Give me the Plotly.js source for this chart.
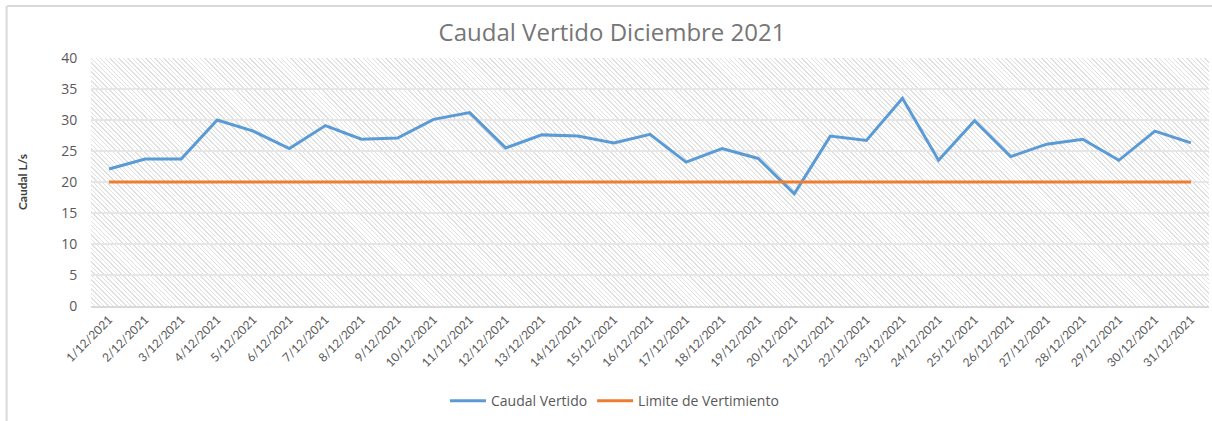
<!DOCTYPE html>
<html>
<head>
<meta charset="utf-8">
<script src="https://cdn.plot.ly/plotly-3.0.1.min.js"></script>
<style>
  html, body { margin: 0; padding: 0; background: #ffffff; }
  #wrap { position: relative; width: 1212px; height: 421px; overflow: hidden; }
  #hatch {
    position: absolute; left: 91px; top: 58px; width: 1118px; height: 248px;
    background: repeating-linear-gradient(45deg, #ffffff 0px, #ffffff 2.2px, #e0e0e0 2.2px, #e0e0e0 3.2px);
    z-index: 0;
  }
  #chart { position: absolute; left: 0; top: 0; width: 1212px; height: 421px; z-index: 1; }
</style>
</head>
<body>
<div id="wrap">
  <div id="hatch"></div>
  <div id="chart"></div>
</div>
<script>
const fechas = ["1/12/2021","2/12/2021","3/12/2021","4/12/2021","5/12/2021","6/12/2021","7/12/2021","8/12/2021","9/12/2021","10/12/2021","11/12/2021","12/12/2021","13/12/2021","14/12/2021","15/12/2021","16/12/2021","17/12/2021","18/12/2021","19/12/2021","20/12/2021","21/12/2021","22/12/2021","23/12/2021","24/12/2021","25/12/2021","26/12/2021","27/12/2021","28/12/2021","29/12/2021","30/12/2021","31/12/2021"];
const caudalVertido = [22.1,23.7,23.7,30.0,28.2,25.4,29.1,26.9,27.1,30.1,31.2,25.5,27.6,27.4,26.3,27.7,23.2,25.4,23.8,18.1,27.4,26.7,33.5,23.5,29.9,24.1,26.1,26.9,23.5,28.2,26.3];
const limiteVertimiento = [20,20,20,20,20,20,20,20,20,20,20,20,20,20,20,20,20,20,20,20,20,20,20,20,20,20,20,20,20,20,20];
const yTicks = [0,5,10,15,20,25,30,35,40];

const FONT = "Lato, 'Open Sans', sans-serif";
const GRAY = "#595959";

const traces = [
  { type: "scatter", mode: "lines", name: "Caudal Vertido", x: fechas, y: caudalVertido,
    line: { color: "#5B9BD5", width: 3 } },
  { type: "scatter", mode: "lines", name: "Limite de Vertimiento", x: fechas, y: limiteVertimiento,
    line: { color: "#ED7D31", width: 3 } }
];

const layout = {
  width: 1212, height: 421,
  margin: { l: 91, r: 3, t: 58, b: 115 },
  paper_bgcolor: "rgba(0,0,0,0)",
  plot_bgcolor: "rgba(0,0,0,0)",
  font: { family: FONT, color: GRAY },
  title: { text: "Caudal Vertido Diciembre 2021", font: { size: 24, color: "#767676", family: "'Open Sans', sans-serif" },
           x: 0.505, xref: "container", xanchor: "center", y: 0.922, yref: "container", yanchor: "middle" },
  showlegend: true,
  legend: { orientation: "h", xref: "container", yref: "container", x: 0.507, xanchor: "center",
            y: 0.047, yanchor: "middle", font: { size: 14, color: GRAY, family: "'Open Sans', sans-serif" },
            itemwidth: 36, tracegroupgap: 0 },
  xaxis: {
    type: "category", range: [-0.5, 30.5], tickangle: -45,
    tickfont: { size: 12, color: GRAY, family: FONT },
    showgrid: false, showline: true, linecolor: "#d9d9d9", linewidth: 2,
    ticks: "", zeroline: false, fixedrange: true
  },
  yaxis: {
    range: [0, 40], tickvals: yTicks, ticktext: yTicks.map(String),
    tickfont: { size: 14, color: GRAY, family: "'Open Sans', sans-serif" },
    showgrid: true, gridcolor: "#e6e6e6", gridwidth: 2,
    zeroline: false, showline: false,
    ticks: "outside", ticklen: 10, tickcolor: "rgba(0,0,0,0)",
    title: { text: "Caudal L/s", font: { size: 12, color: "#404040", family: FONT, weight: "bold" }, standoff: 30 },
    fixedrange: true
  },
  shapes: [
    { type: "line", xref: "paper", yref: "paper", x0: -0.075, x1: 1.01, y0: 1.21, y1: 1.21,
      line: { color: "#d9d9d9", width: 2 } },
    { type: "line", xref: "paper", yref: "paper", x0: -0.0755, x1: -0.0755, y0: 1.21, y1: -0.5,
      line: { color: "#d9d9d9", width: 2 } }
  ]
};

Plotly.newPlot("chart", traces, layout, { displayModeBar: false, staticPlot: true });
</script>
</body>
</html>
